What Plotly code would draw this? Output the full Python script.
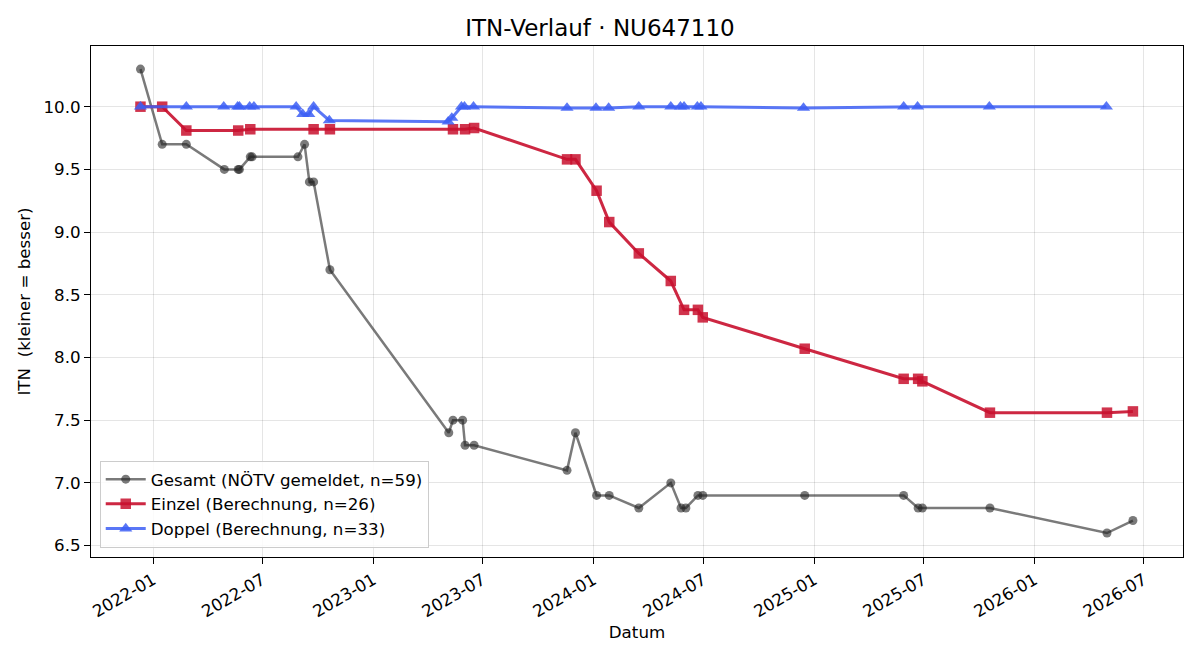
import plotly.graph_objects as go

# ---- data ----
gesamt_dates = ["2021-12-11", "2022-01-16", "2022-02-25", "2022-04-29", "2022-05-22", "2022-05-24",
                "2022-06-11", "2022-06-14", "2022-08-29", "2022-09-09", "2022-09-17", "2022-09-24",
                "2022-10-21", "2023-05-06", "2023-05-13", "2023-05-29", "2023-06-02", "2023-06-17",
                "2023-11-18", "2023-12-02", "2024-01-06", "2024-01-27", "2024-03-16", "2024-05-08",
                "2024-05-25", "2024-06-02", "2024-06-22", "2024-06-30", "2024-12-16", "2025-05-29",
                "2025-06-22", "2025-06-29", "2025-10-19", "2026-05-01", "2026-06-13"]
gesamt_itn = [10.3, 9.7, 9.7, 9.5, 9.5, 9.5,
              9.6, 9.6, 9.6, 9.7, 9.4, 9.4,
              8.7, 7.4, 7.5, 7.5, 7.3, 7.3,
              7.1, 7.4, 6.9, 6.9, 6.8, 7.0,
              6.8, 6.8, 6.9, 6.9, 6.9, 6.9,
              6.8, 6.8, 6.8, 6.6, 6.7]

einzel_dates = ["2021-12-11", "2022-01-16", "2022-02-25", "2022-05-22", "2022-06-11", "2022-09-24",
                "2022-10-21", "2023-05-13", "2023-06-02", "2023-06-17", "2023-11-18", "2023-12-02",
                "2024-01-06", "2024-01-27", "2024-03-16", "2024-05-08", "2024-05-30", "2024-06-22",
                "2024-06-30", "2024-12-16", "2025-05-29", "2025-06-22", "2025-06-29", "2025-10-19",
                "2026-05-01", "2026-06-13"]
einzel_itn = [10.0, 10.0, 9.81, 9.81, 9.82, 9.82,
              9.82, 9.82, 9.82, 9.83, 9.58, 9.58,
              9.33, 9.08, 8.83, 8.61, 8.38, 8.38,
              8.32, 8.07, 7.83, 7.83, 7.81, 7.56,
              7.56, 7.57]

doppel_dates = ["2021-12-11", "2022-02-25", "2022-04-28", "2022-05-21", "2022-05-24", "2022-06-10",
                "2022-06-17", "2022-08-26", "2022-09-06", "2022-09-16", "2022-09-24", "2022-10-20",
                "2023-05-05", "2023-05-11", "2023-05-27", "2023-06-01", "2023-06-16", "2023-11-18",
                "2024-01-05", "2024-01-26", "2024-03-16", "2024-05-08", "2024-05-24", "2024-05-30",
                "2024-06-21", "2024-06-27", "2024-12-14", "2025-05-29", "2025-06-21", "2025-10-18",
                "2026-04-30"]
doppel_itn = [10.0, 10.0, 10.0, 10.0, 10.0, 10.0,
              10.0, 10.0, 9.94, 9.94, 10.0, 9.89,
              9.88, 9.91, 10.0, 10.0, 10.0, 9.99,
              9.99, 9.99, 10.0, 10.0, 10.0, 10.0,
              10.0, 10.0, 9.99, 10.0, 10.0, 10.0,
              10.0]

names = ["Gesamt (NÖTV gemeldet, n=59)", "Einzel (Berechnung, n=26)", "Doppel (Berechnung, n=33)"]
y_ticks = [6.5, 7.0, 7.5, 8.0, 8.5, 9.0, 9.5, 10.0]

FONT = "DejaVu Sans"
FS = 16.7

fig = go.Figure()
fig.add_trace(go.Scatter(
    x=gesamt_dates, y=gesamt_itn, name=names[0], mode="lines+markers",
    line=dict(color="rgba(34,34,34,0.6)", width=2.5),
    marker=dict(symbol="circle", size=9, color="rgba(34,34,34,0.6)", line=dict(width=0)),
))
fig.add_trace(go.Scatter(
    x=einzel_dates, y=einzel_itn, name=names[1], mode="lines+markers",
    line=dict(color="rgba(200,16,46,0.9)", width=3),
    marker=dict(symbol="square", size=10.5, color="rgba(200,16,46,0.85)", line=dict(width=0)),
))
fig.add_trace(go.Scatter(
    x=doppel_dates, y=doppel_itn, name=names[2], mode="lines+markers",
    line=dict(color="rgba(61,95,245,0.85)", width=3),
    marker=dict(symbol="triangle-up", size=11.5, color="rgba(61,95,245,0.85)", line=dict(width=0)),
))

fig.update_layout(
    width=1200, height=660,
    margin=dict(l=91, r=17, t=46, b=103),
    paper_bgcolor="white", plot_bgcolor="white",
    font=dict(family=FONT, size=FS, color="black"),
    title=dict(text="ITN-Verlauf · NU647110", x=0.5, xanchor="center", y=0.957, yanchor="middle",
               font=dict(family=FONT, size=23, color="black")),
    showlegend=True,
    legend=dict(x=0.008, y=0.018, xanchor="left", yanchor="bottom",
                bgcolor="rgba(255,255,255,0.85)", bordercolor="#cccccc", borderwidth=1,
                font=dict(family=FONT, size=FS, color="black"),
                itemwidth=40, tracegroupgap=0),
)

fig.update_xaxes(
    type="date",
    range=["2021-09-20", "2026-09-04"],
    tick0="2022-01-01", dtick="M6", tickformat="%Y-%m",
    tickangle=-30,
    ticks="outside", ticklen=6, tickcolor="black",
    showline=True, linecolor="black", linewidth=1, mirror=True,
    showgrid=True, gridcolor="rgba(0,0,0,0.1)", gridwidth=1,
    zeroline=False,
    tickfont=dict(family=FONT, size=FS),
    title=dict(text="Datum", font=dict(family=FONT, size=FS), standoff=6),
)
fig.update_yaxes(
    range=[6.409, 10.484],
    tickvals=y_ticks, ticktext=[f"{v:.1f}" for v in y_ticks],
    ticks="outside", ticklen=6, tickcolor="black",
    showline=True, linecolor="black", linewidth=1, mirror=True,
    showgrid=True, gridcolor="rgba(0,0,0,0.1)", gridwidth=1,
    zeroline=False,
    tickfont=dict(family=FONT, size=FS),
    title=dict(text="ITN\u00a0\u00a0(kleiner = besser)", font=dict(family=FONT, size=FS), standoff=8),
)

fig.write_html("out.html")
